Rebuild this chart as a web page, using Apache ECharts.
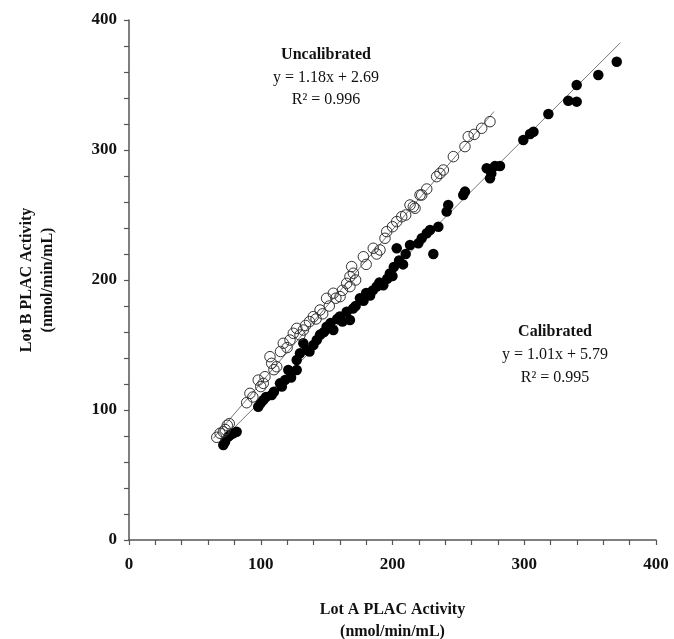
<!DOCTYPE html>
<html>
<head>
<meta charset="utf-8">
<script src="https://cdn.jsdelivr.net/npm/echarts@6/dist/echarts.min.js"></script>
<style>html,body{margin:0;padding:0;background:#fff;overflow:hidden}#c{width:674px;height:639px}</style>
</head>
<body>
<div id="c"></div>
<script>
// Uncalibrated (open circles): [Lot A, Lot B]
const uncalibrated = [[66.6,79],[69.1,82.1],[71.6,83.2],[73,85],[74.6,88.2],[76.1,89.5],[89.3,105.6],[91.8,112.8],[94,110],[98.1,123],[100,118],[101.9,120.5],[103.2,125.6],[107,141],[108.3,135.9],[110,131],[112.1,133.3],[115,145],[117.1,151.3],[120,148],[122.2,153.8],[124.7,159],[127.3,162.8],[129.8,157.7],[132.3,161.5],[134,165],[137,168],[139.9,171.8],[142,170],[145,176.9],[147,174],[150,185.9],[152,180],[155.1,189.8],[157,186],[160.2,187.2],[162,192],[165.2,197.4],[167.7,194.9],[167.7,202.6],[169,210.3],[170.3,205.2],[172,200],[177.9,217.9],[180,212],[185.4,224.4],[188,220],[190.5,223.1],[194.3,232.1],[195.6,237.2],[200,241],[203.2,244.9],[207,248.7],[210,250],[213.3,257.7],[215.8,256.4],[217.1,255.2],[220.9,265.4],[222.2,265.4],[226,270],[233.5,279.5],[236,282],[238.6,284.6],[246.2,294.9],[255,302.6],[257.5,310.3],[262,312],[267.7,316.7],[274,321.8]];
// Calibrated (filled circles): [Lot A, Lot B]
const calibrated = [[71.6,73.1],[72.9,75.6],[75.4,79.5],[77,81],[79.2,82.1],[81.7,83.3],[98.1,102.5],[99.9,105.1],[102,107.7],[104,110],[108.3,111.5],[110,114],[114.6,120.5],[116,118],[118.4,123],[120.9,130.8],[123,125],[127.3,130.8],[127.3,138.5],[129.8,143.6],[132.3,151.3],[134.9,146.2],[137,145],[140,150],[142.5,153.8],[145,158],[148,160],[150,164.1],[153,167],[155.1,161.5],[158,170],[160,172],[162,168],[165.2,175.6],[167.7,169.2],[170,178],[172,180],[175.3,185.9],[178,184],[180,190],[183,188],[185,192],[188,195],[190,198],[193,196],[196,201],[198,205],[200,203],[201,210],[203.2,224.4],[205,215],[208,212],[210,220],[213.3,226.9],[219.6,228.2],[222.2,232.1],[226,235.9],[228.5,238.5],[231,220],[234.8,241],[241.1,252.6],[242.3,257.7],[253.7,265.4],[255,268],[271.5,285.9],[274,278.2],[275,282],[277.8,287.7],[281.6,287.7],[299.3,307.7],[304.4,312.3],[307,314],[318.3,327.7],[333.4,337.9],[339.8,337.2],[339.8,350],[356.2,357.7],[370.2,367.9]];
// Regression fits: [slope, intercept], x range
const uncalFit = {slope: 1.18, intercept: 2.69, xRange: [64, 277]};
const calFit = {slope: 1.01, intercept: 5.79, xRange: [69, 373]};
const tickLabels = [0, 100, 200, 300, 400];
const uncalText = ['Uncalibrated', 'y = 1.18x + 2.69', 'R² = 0.996'];
const calText = ['Calibrated', 'y = 1.01x + 5.79', 'R² = 0.995'];

function fitLine(f){ return f.xRange.map(x => [x, f.slope * x + f.intercept]); }

const FONT = '"Liberation Serif", "Times New Roman", serif';
const axisCommon = {
  min: 0, max: 400, interval: 20,
  axisLine: {show: true, lineStyle: {color: '#555', width: 1.5}},
  axisTick: {show: true, length: 5, lineStyle: {color: '#555', width: 1.2}},
  splitLine: {show: false},
  axisLabel: {
    fontFamily: FONT, fontWeight: 'bold', fontSize: 17, color: '#111',
    formatter: v => tickLabels.includes(v) ? String(v) : ''
  },
  nameLocation: 'middle',
  nameTextStyle: {fontFamily: FONT, fontWeight: 'bold', fontSize: 16, color: '#111', lineHeight: 22}
};

const chart = echarts.init(document.getElementById('c'), null, {renderer: 'canvas'});
chart.setOption({
  animation: false,
  backgroundColor: '#fff',
  grid: {left: 129, top: 20, width: 527, height: 520, containLabel: false, outerBoundsMode: 'none'},
  xAxis: Object.assign({}, axisCommon, {
    type: 'value', name: 'Lot A PLAC Activity\n(nmol/min/mL)', nameGap: 59,
    axisLabel: Object.assign({}, axisCommon.axisLabel, {margin: 16})
  }),
  yAxis: Object.assign({}, axisCommon, {
    type: 'value', name: 'Lot B PLAC Activity\n(nmol/min/mL)', nameGap: 71, nameRotate: 90,
    nameTextStyle: Object.assign({}, axisCommon.nameTextStyle, {lineHeight: 21}),
    axisLabel: Object.assign({}, axisCommon.axisLabel, {margin: 12})
  }),
  series: [
    {type: 'line', data: fitLine(uncalFit), symbol: 'none', z: 1,
     lineStyle: {color: '#777', width: 1}},
    {type: 'line', data: fitLine(calFit), symbol: 'none', z: 1,
     lineStyle: {color: '#777', width: 1}},
    {type: 'scatter', name: 'Calibrated', data: calibrated, symbol: 'circle', symbolSize: 10.5, z: 2,
     itemStyle: {color: '#000', opacity: 1}},
    {type: 'scatter', name: 'Uncalibrated', data: uncalibrated, symbol: 'circle', symbolSize: 10.5, z: 3,
     itemStyle: {color: 'rgba(255,255,255,0)', borderColor: '#333', borderWidth: 1, opacity: 1}}
  ],
  graphic: [
    {type: 'text', x: 326, y: 55, style: {text: uncalText[0], fontFamily: FONT, fontWeight: 'bold', fontSize: 16, fill: '#111', align: 'center', verticalAlign: 'middle'}},
    {type: 'text', x: 326, y: 78, style: {text: uncalText[1], fontFamily: FONT, fontSize: 16, fill: '#111', align: 'center', verticalAlign: 'middle'}},
    {type: 'text', x: 326, y: 100, style: {text: uncalText[2], fontFamily: FONT, fontSize: 16, fill: '#111', align: 'center', verticalAlign: 'middle'}},
    {type: 'text', x: 555, y: 332, style: {text: calText[0], fontFamily: FONT, fontWeight: 'bold', fontSize: 16, fill: '#111', align: 'center', verticalAlign: 'middle'}},
    {type: 'text', x: 555, y: 355, style: {text: calText[1], fontFamily: FONT, fontSize: 16, fill: '#111', align: 'center', verticalAlign: 'middle'}},
    {type: 'text', x: 555, y: 378, style: {text: calText[2], fontFamily: FONT, fontSize: 16, fill: '#111', align: 'center', verticalAlign: 'middle'}}
  ]
});
</script>
</body>
</html>
